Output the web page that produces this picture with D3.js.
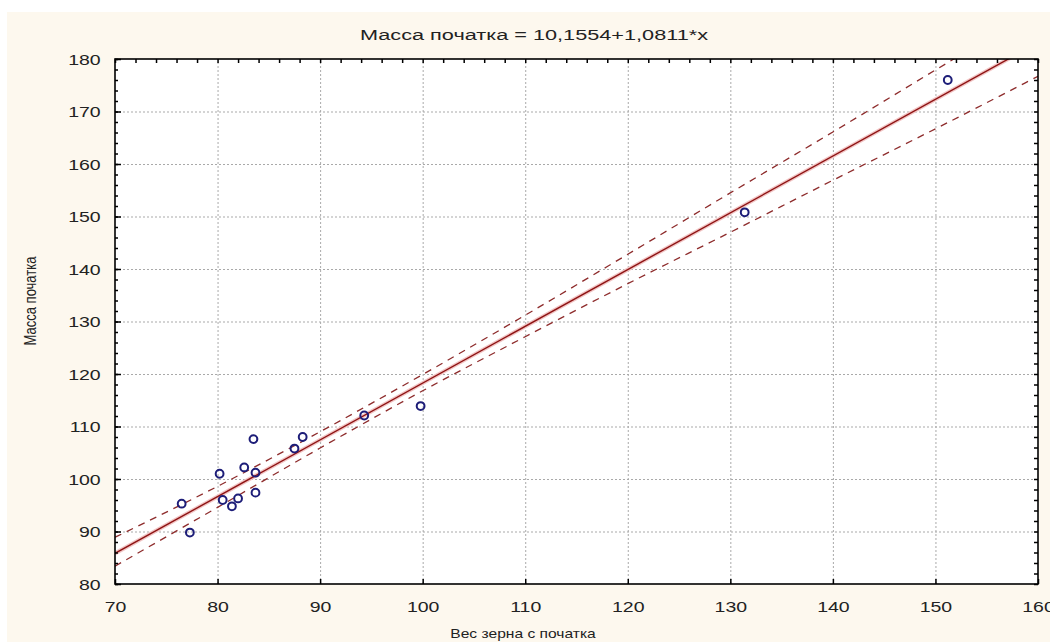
<!DOCTYPE html>
<html>
<head>
<meta charset="utf-8" />
<title>Масса початка</title>
<script src="https://d3js.org/d3.v7.min.js"></script>
<style>
  body { margin: 0; background: #fff; }
  text { font-family: "Liberation Sans", Arial, sans-serif; fill: #222; }
  .grid line { stroke: #a9a9a9; stroke-width: 1; stroke-dasharray: 2,2; }
  .grid path { display: none; }
  .fit { fill: none; stroke: #8e1414; stroke-width: 1.4px; }
  .band { fill: none; stroke: #8e2c2c; stroke-width: 1.3px; stroke-dasharray: 7,6; }
  .pt { fill: none; stroke: #1d1d78; stroke-width: 2px; }
</style>
</head>
<body>
<svg width="1050" height="642"></svg>
<script>
// observed points (Вес зерна с початка, Масса початка)
var grainWeight = [76.5, 77.3, 80.2, 80.5, 81.4, 82.0, 82.6, 83.5, 83.7, 83.7, 87.5, 88.3, 94.3, 99.8, 131.4, 151.2];
var cobMass     = [95.3, 89.8, 101.0, 96.0, 94.8, 96.3, 102.2, 107.6, 101.2, 97.4, 105.8, 108.0, 112.1, 113.9, 150.8, 176.0];

// regression from the title
var intercept = 10.1554, slope = 1.0811;

// confidence band
var bandX     = [70, 80, 90, 100, 110, 120, 130, 140, 150, 160];
var bandUpper = [88.9, 98.6, 109.0, 119.9, 131.2, 142.8, 154.5, 166.1, 177.9, 189.6];
var bandLower = [83.4, 94.6, 105.9, 116.8, 127.1, 137.2, 147.0, 156.9, 166.7, 176.7];

var xTicks = [70, 80, 90, 100, 110, 120, 130, 140, 150, 160];
var yTicks = [80, 90, 100, 110, 120, 130, 140, 150, 160, 170, 180];

var svg = d3.select("svg");
var pLeft = 115, pRight = 1038, pTop = 59, pBottom = 584;

// background
svg.append("rect").attr("x", 7).attr("y", 12).attr("width", 1043).attr("height", 630).attr("fill", "#fdf8ee");
svg.append("rect").attr("x", pLeft).attr("y", pTop).attr("width", pRight - pLeft).attr("height", pBottom - pTop).attr("fill", "#fff");

var x = d3.scaleLinear().domain([70, 160]).range([pLeft, pRight]);
var y = d3.scaleLinear().domain([80, 180]).range([pBottom, pTop]);

// grid
svg.append("g").attr("class", "grid")
    .attr("transform", "translate(0," + pBottom + ")")
    .call(d3.axisBottom(x).tickValues(xTicks.slice(1, -1)).tickSize(-(pBottom - pTop)).tickFormat(""));
svg.append("g").attr("class", "grid")
    .attr("transform", "translate(" + pLeft + ",0)")
    .call(d3.axisLeft(y).tickValues(yTicks.slice(1, -1)).tickSize(-(pRight - pLeft)).tickFormat(""));

svg.append("clipPath").attr("id", "plot")
    .append("rect").attr("x", pLeft).attr("y", pTop).attr("width", pRight - pLeft).attr("height", pBottom - pTop);

var plot = svg.append("g").attr("clip-path", "url(#plot)");

var band = d3.line()
    .x(function (d) { return x(d[0]); })
    .y(function (d) { return y(d[1]); })
    .curve(d3.curveMonotoneX);

plot.append("path").datum(bandX.map(function (v, i) { return [v, bandUpper[i]]; }))
    .attr("class", "band").attr("d", band);
plot.append("path").datum(bandX.map(function (v, i) { return [v, bandLower[i]]; }))
    .attr("class", "band").attr("d", band);

// pink halo of the fitted line
var fitEnds = [70, 160].map(function (v) { return [v, intercept + slope * v]; });
plot.append("path").datum(fitEnds)
    .attr("d", band).attr("fill", "none").attr("stroke", "#f2c6c6").attr("stroke-width", 4);
plot.append("path").datum(fitEnds)
    .attr("class", "fit").attr("d", band);

plot.selectAll("circle").data(grainWeight)
    .enter().append("circle")
    .attr("class", "pt")
    .attr("cx", function (d) { return x(d); })
    .attr("cy", function (d, i) { return y(cobMass[i]); })
    .attr("r", 3.9);

// axes
var minorX = d3.range(70, 161, 2), minorY = d3.range(80, 181, 2);

function frameAxis(g) {
    g.select(".domain").remove();
    g.selectAll("line").attr("stroke", "#000").attr("stroke-width", 1.5);
}

svg.append("g").attr("transform", "translate(0," + pTop + ")")
    .call(d3.axisTop(x).tickValues(minorX).tickSize(-4).tickFormat("")).call(frameAxis);
svg.append("g").attr("transform", "translate(" + pRight + ",0)")
    .call(d3.axisRight(y).tickValues(minorY).tickSize(-4).tickFormat("")).call(frameAxis);
svg.append("g").attr("transform", "translate(" + pLeft + ",0)")
    .call(d3.axisLeft(y).tickValues(minorY).tickSize(-3).tickFormat("")).call(frameAxis);

var xAxis = svg.append("g").attr("transform", "translate(0," + pBottom + ")")
    .call(d3.axisBottom(x).tickValues(xTicks).tickSize(-5).tickPadding(0).tickFormat(d3.format("d")));
xAxis.select(".domain").remove();
xAxis.selectAll("line").attr("stroke", "#000").attr("stroke-width", 1.5);
xAxis.selectAll("text").attr("y", 28).attr("dy", null)
    .style("font-size", "15px").attr("transform", "scale(1.3,1)");

var yAxis = svg.append("g").attr("transform", "translate(" + pLeft + ",0)")
    .call(d3.axisLeft(y).tickValues(yTicks).tickSize(-6).tickFormat(d3.format("d")));
yAxis.select(".domain").remove();
yAxis.selectAll("line").attr("stroke", "#000").attr("stroke-width", 1.5);
yAxis.selectAll("text").attr("x", -11).attr("dy", "0.36em")
    .style("font-size", "15px").attr("transform", "scale(1.3,1)");

// frame
svg.append("rect").attr("x", pLeft).attr("y", pTop).attr("width", pRight - pLeft).attr("height", pBottom - pTop)
    .attr("fill", "none").attr("stroke", "#000").attr("stroke-width", 1.6);

// titles
svg.append("text").attr("transform", "translate(534,40) scale(1.4,1)")
    .attr("text-anchor", "middle").style("font-size", "15.5px")
    .text("Масса початка = 10,1554+1,0811*x");
svg.append("text").attr("transform", "translate(523,638) scale(1.3,1)")
    .attr("text-anchor", "middle").style("font-size", "12px")
    .text("Вес зерна с початка");
svg.append("text").attr("transform", "translate(36,301) scale(1.2,1) rotate(-90)")
    .attr("text-anchor", "middle").style("font-size", "13px")
    .text("Масса початка");
</script>
</body>
</html>
